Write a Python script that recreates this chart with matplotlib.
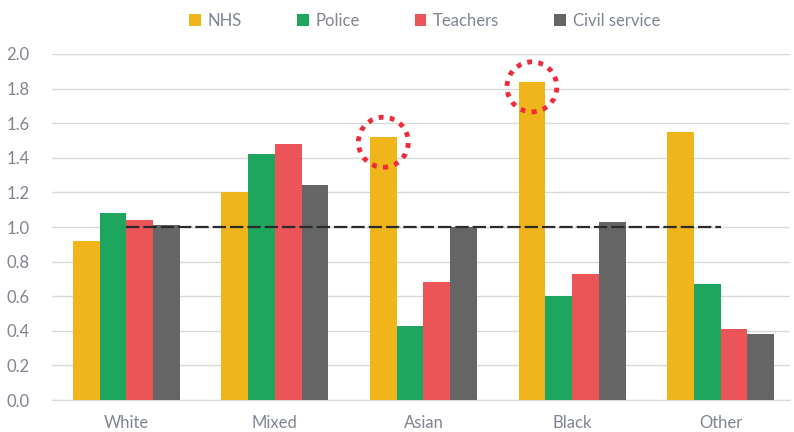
import matplotlib.pyplot as plt
import numpy as np
from matplotlib.patches import Ellipse

plt.rcParams['font.family'] = ['Lato', 'DejaVu Sans']

groups = ['White', 'Mixed', 'Asian', 'Black', 'Other']
series = ['NHS', 'Police', 'Teachers', 'Civil service']
nhs = [0.92, 1.20, 1.52, 1.84, 1.55]
police = [1.08, 1.42, 0.43, 0.60, 0.67]
teachers = [1.04, 1.48, 0.68, 0.73, 0.41]
civil = [1.01, 1.24, 1.00, 1.03, 0.38]
baseline = [1.0, 1.0, 1.0, 1.0, 1.0]
highlight = ['Asian', 'Black']

colors = ['#F0B51B', '#1FA65E', '#EC5558', '#656565']
text_grey = '#7F8490'

fig = plt.figure(figsize=(7.94, 4.32), dpi=100)
ax = fig.add_axes([0.0655, 0.074, 0.93, 0.801])

x = np.arange(len(groups))
w = 0.18
for i, (name, vals) in enumerate(zip(series, [nhs, police, teachers, civil])):
    ax.bar(x + (i - 1.5) * w, vals, width=w, color=colors[i], label=name, zorder=3)

ax.plot(x, baseline, color='#2B2B2B', linestyle=(0, (6, 1.8)), linewidth=1.6, zorder=4)

# dotted circles round the highlighted NHS bars
for g in highlight:
    k = groups.index(g)
    cx = x[k] - 1.5 * w
    ell = Ellipse((cx, nhs[k] - 0.03), width=50 / 149, height=50 / 173, fill=False,
                  edgecolor='#EE2B3B', linewidth=3.5, linestyle=(0, (1, 1.3)), zorder=5)
    ax.add_patch(ell)

ax.set_xlim(-0.5, 4.47)
ax.set_ylim(0, 2.0)
ax.set_yticks(np.arange(0, 2.01, 0.2))
ax.set_yticklabels([f'{v:.1f}' for v in np.arange(0, 2.01, 0.2)])
ax.set_xticks(x)
ax.set_xticklabels(groups)
ax.tick_params(axis='both', length=0, labelsize=12, labelcolor=text_grey)
ax.tick_params(axis='x', pad=11)
ax.tick_params(axis='y', pad=16)
ax.grid(axis='y', color='#D9D9D9', linewidth=1, zorder=0)
for s in ['top', 'right', 'left']:
    ax.spines[s].set_visible(False)
ax.spines['bottom'].set_color('#D9D9D9')

fig.legend(loc='upper center', bbox_to_anchor=(0.535, 1.005), ncol=4, frameon=False,
           fontsize=12, labelcolor=text_grey, handlelength=0.7, handleheight=0.7,
           handletextpad=0.4, columnspacing=3.3)

fig.savefig('out.png', dpi=100)
